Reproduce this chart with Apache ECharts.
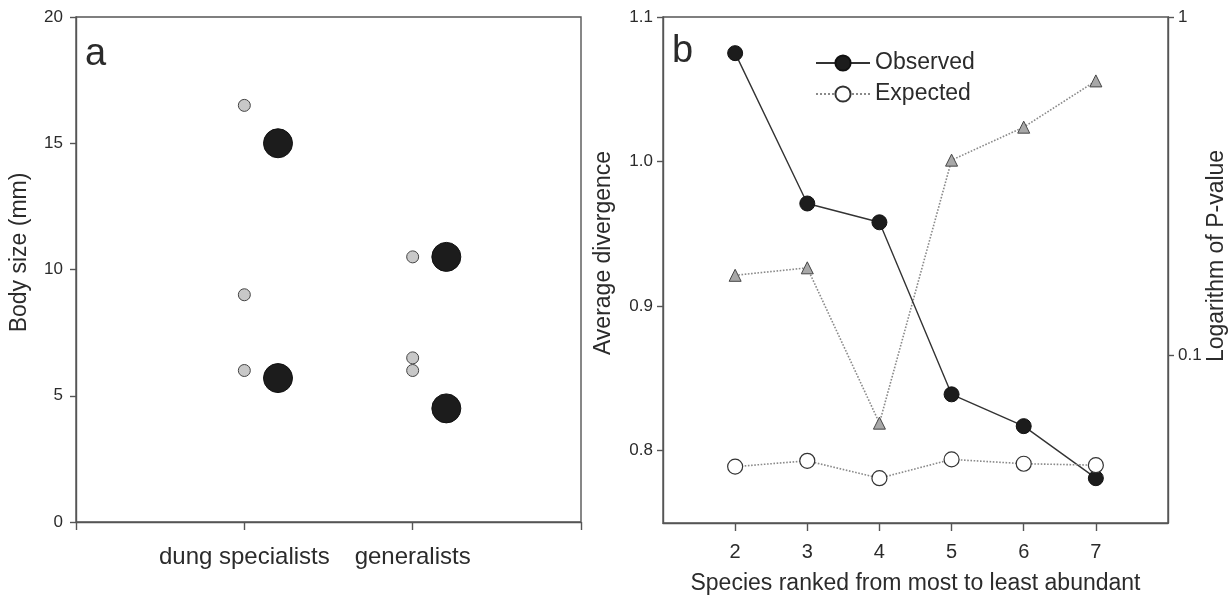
<!DOCTYPE html>
<html>
<head>
<meta charset="utf-8">
<script src="https://cdn.jsdelivr.net/npm/echarts@6/dist/echarts.min.js"></script>
<style>
  html, body { margin: 0; padding: 0; background: #fff; }
  #chart { width: 1231px; height: 598px; }
</style>
</head>
<body>
<div id="chart"></div>
<script>
// panel a: body sizes
const categories = ['dung specialists', 'generalists'];
const speciesSize = [[16.5, 9, 6], [10.5, 6.5, 6]];   // grey dots
const groupSize = [[15, 5.7], [10.5, 4.5]];           // black dots
const sizeTicks = [0, 5, 10, 15, 20];

// panel b: divergence by rank
const ranks = [2, 3, 4, 5, 6, 7];
const observed = [1.075, 0.971, 0.958, 0.839, 0.817, 0.781];
const expected = [0.789, 0.793, 0.781, 0.794, 0.791, 0.790];
const pValue = [0.172, 0.181, 0.0628, 0.377, 0.472, 0.647];
const divTicks = [0.8, 0.9, 1.0, 1.1];
const pTicks = [0.1, 1];

const FONT = 'Liberation Sans, Arial, sans-serif';
const AXIS = '#555';
const TXT = '#2b2b2b';

const chart = echarts.init(document.getElementById('chart'));

// grey dots sit on the category, black ones a bit to the right
const greyPts = [];
speciesSize.forEach((arr, i) => arr.forEach(v => greyPts.push([i + 1, v])));
const blackPts = [];
groupSize.forEach((arr, i) => arr.forEach(v => blackPts.push([i + 1.2, v])));

const axisCommon = {
  axisLine: { show: true, lineStyle: { color: AXIS, width: 1.4 } },
  axisTick: { show: true, inside: false, length: 6, lineStyle: { color: AXIS, width: 1.4 } },
  splitLine: { show: false },
  axisLabel: { color: TXT, fontSize: 17, fontFamily: FONT },
  nameTextStyle: { color: TXT, fontSize: 23, fontFamily: FONT }
};

chart.setOption({
  animation: false,
  textStyle: { fontFamily: FONT },
  grid: [
    { left: 76, right: 650, top: 17, bottom: 76, outerBoundsMode: 'none',
      show: true, borderColor: AXIS, borderWidth: 1.4 },
    { left: 663, right: 63, top: 17, bottom: 75, outerBoundsMode: 'none',
      show: true, borderColor: AXIS, borderWidth: 1.4 }
  ],
  legend: {
    data: ['Observed', 'Expected'],
    orient: 'vertical',
    left: 810,
    top: 46,
    itemWidth: 54,
    itemHeight: 19,
    itemGap: 7,
    textStyle: { color: TXT, fontSize: 23, lineHeight: 24, fontFamily: FONT }
  },
  graphic: [
    { type: 'text', left: 85, top: 36, style: { text: 'a', font: '38px ' + FONT, fill: TXT } },
    { type: 'text', left: 672, top: 33, style: { text: 'b', font: '38px ' + FONT, fill: TXT } }
  ],
  xAxis: [
    Object.assign({}, axisCommon, {
      gridIndex: 0, type: 'value', min: 0, max: 3, interval: 1,
      axisTick: Object.assign({}, axisCommon.axisTick, { length: 8 }),
      axisLabel: Object.assign({}, axisCommon.axisLabel, {
        fontSize: 24, margin: 23,
        formatter: v => categories[v - 1] || ''
      })
    }),
    Object.assign({}, axisCommon, {
      gridIndex: 1, type: 'value', min: 1, max: 8, interval: 1,
      name: 'Species ranked from most to least abundant',
      nameLocation: 'middle', nameGap: 49,
      axisTick: Object.assign({}, axisCommon.axisTick, { length: 8 }),
      axisLabel: Object.assign({}, axisCommon.axisLabel, {
        fontSize: 20, margin: 19, showMinLabel: false, showMaxLabel: false
      })
    })
  ],
  yAxis: [
    Object.assign({}, axisCommon, {
      gridIndex: 0, type: 'value', min: 0, max: 20, interval: 5,
      name: 'Body size (mm)', nameLocation: 'middle', nameGap: 45, nameRotate: 90,
      axisLabel: Object.assign({}, axisCommon.axisLabel, { margin: 13 }),
      nameTextStyle: Object.assign({}, axisCommon.nameTextStyle, { padding: [0, 0, 0, 34] })
    }),
    Object.assign({}, axisCommon, {
      gridIndex: 1, type: 'value', min: 0.75, max: 1.1,
      name: 'Average divergence', nameLocation: 'middle', nameGap: 48, nameRotate: 90,
      axisTick: Object.assign({}, axisCommon.axisTick, { customValues: divTicks }),
      axisLabel: Object.assign({}, axisCommon.axisLabel, {
        margin: 10, customValues: divTicks, formatter: v => v.toFixed(1)
      }),
      nameTextStyle: Object.assign({}, axisCommon.nameTextStyle, { padding: [0, 0, 0, 34] })
    }),
    Object.assign({}, axisCommon, {
      gridIndex: 1, type: 'log', logBase: 10, min: 0.0318, max: 1, position: 'right',
      name: 'Logarithm of P-value', nameLocation: 'middle', nameGap: 36, nameRotate: 90,
      axisTick: Object.assign({}, axisCommon.axisTick, { customValues: pTicks }),
      axisLabel: Object.assign({}, axisCommon.axisLabel, {
        margin: 10, customValues: pTicks, formatter: v => String(v)
      }),
      nameTextStyle: Object.assign({}, axisCommon.nameTextStyle, { padding: [0, 0, 0, 28] })
    })
  ],
  series: [
    {
      name: 'species', type: 'scatter', xAxisIndex: 0, yAxisIndex: 0,
      data: greyPts, symbolSize: 12,
      itemStyle: { color: '#c8c8c8', borderColor: '#444', borderWidth: 1, opacity: 1 }
    },
    {
      name: 'group', type: 'scatter', xAxisIndex: 0, yAxisIndex: 0,
      data: blackPts, symbolSize: 29,
      itemStyle: { color: '#1c1c1c', borderColor: '#111', borderWidth: 1, opacity: 1 }
    },
    {
      name: 'P-value', type: 'line', xAxisIndex: 1, yAxisIndex: 2,
      data: ranks.map((r, i) => [r, pValue[i]]),
      symbol: 'triangle', symbolSize: 12,
      lineStyle: { color: '#8a8a8a', width: 1.6, type: 'dotted' },
      itemStyle: { color: '#a8a8a8', borderColor: '#444', borderWidth: 1 }
    },
    {
      name: 'Observed', type: 'line', xAxisIndex: 1, yAxisIndex: 1,
      data: ranks.map((r, i) => [r, observed[i]]),
      symbol: 'circle', symbolSize: 15,
      lineStyle: { color: '#333', width: 1.4, type: 'solid' },
      itemStyle: { color: '#1c1c1c', borderColor: '#111', borderWidth: 1 }
    },
    {
      name: 'Expected', type: 'line', xAxisIndex: 1, yAxisIndex: 1,
      data: ranks.map((r, i) => [r, expected[i]]),
      symbol: 'circle', symbolSize: 15,
      lineStyle: { color: '#8a8a8a', width: 1.6, type: 'dotted' },
      itemStyle: { color: '#fff', borderColor: '#333', borderWidth: 1.2 }
    }
  ]
});
</script>
</body>
</html>
